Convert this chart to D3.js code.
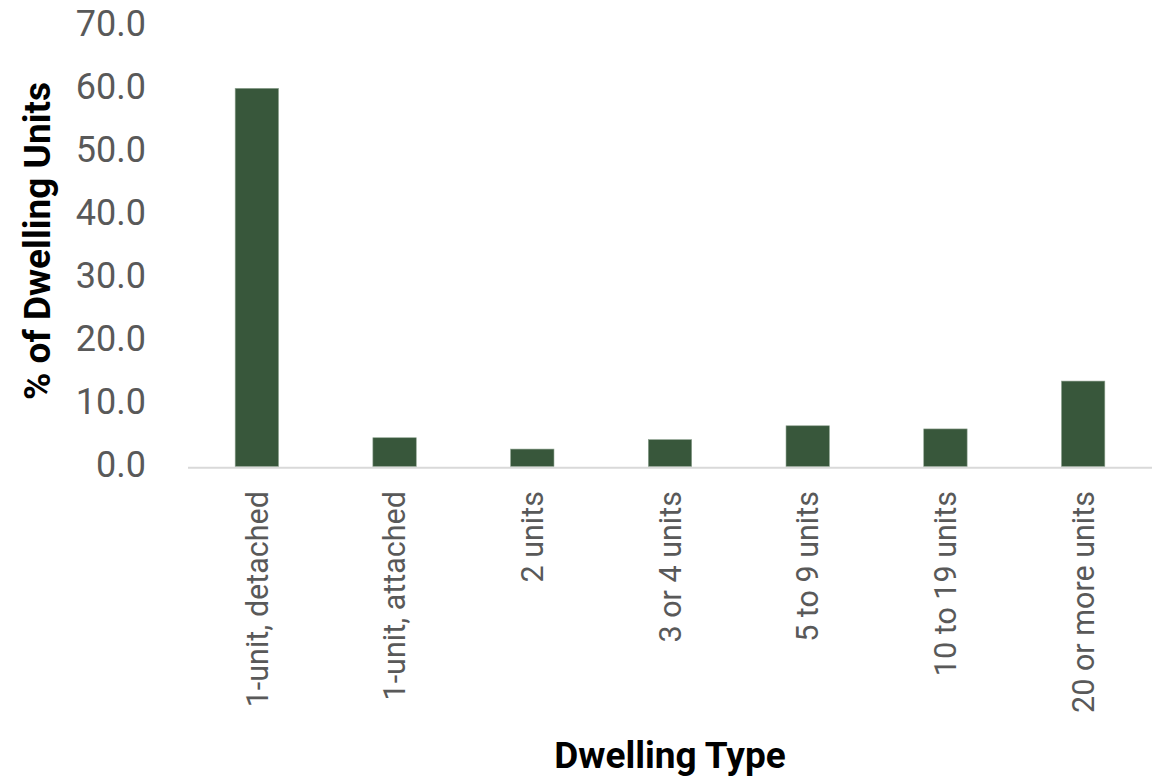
<!DOCTYPE html>
<html>
<head>
<meta charset="utf-8">
<script src="https://cdn.jsdelivr.net/npm/d3@7"></script>
<style>
  body { margin: 0; background: #fff; }
  svg { display: block; }
</style>
</head>
<body>
<div id="chart"></div>
<script>
// Share of dwelling units by type
const dwellingTypes = ["1-unit, detached", "1-unit, attached", "2 units", "3 or 4 units",
  "5 to 9 units", "10 to 19 units", "20 or more units"];
const sharePct = [60.1, 4.6, 2.8, 4.3, 6.5, 6.0, 13.6];
const yTicks = [0, 10, 20, 30, 40, 50, 60, 70];

const width = 1160;
const height = 778;
const marginLeft = 188;
const marginRight = 8;
const marginTop = 26;
const baseline = 466.7;

const data = dwellingTypes.map((d, i) => ({ type: d, value: sharePct[i] }));

const x = d3.scaleBand()
  .domain(dwellingTypes)
  .range([marginLeft, width - marginRight]);

const y = d3.scaleLinear()
  .domain([0, 70])
  .range([baseline, marginTop]);

const barWidth = x.bandwidth() * 0.315;

const svg = d3.select("#chart").append("svg")
  .attr("width", width)
  .attr("height", height)
  .attr("font-family", "Roboto, sans-serif");

// bars
svg.append("g")
  .selectAll("rect")
  .data(data)
  .join("rect")
  .attr("x", d => x(d.type) + (x.bandwidth() - barWidth) / 2)
  .attr("y", d => y(d.value))
  .attr("width", barWidth)
  .attr("height", d => y(0) - y(d.value))
  .attr("fill", "#38573b")
  .attr("stroke", "#8fa391")
  .attr("stroke-width", 0.6);

// category axis line
svg.append("line")
  .attr("x1", marginLeft)
  .attr("x2", width - marginRight)
  .attr("y1", y(0) + 1)
  .attr("y2", y(0) + 1)
  .attr("stroke", "#d9d9d9")
  .attr("stroke-width", 2);

// y tick labels
svg.append("g")
  .attr("fill", "#595959")
  .attr("font-size", 36)
  .attr("text-anchor", "end")
  .selectAll("text")
  .data(yTicks)
  .join("text")
  .attr("x", 146)
  .attr("y", d => y(d))
  .attr("dy", "0.29em")
  .text(d => d3.format(".1f")(d));

// x tick labels, rotated
svg.append("g")
  .attr("fill", "#595959")
  .attr("font-size", 30.5)
  .attr("text-anchor", "end")
  .selectAll("text")
  .data(dwellingTypes)
  .join("text")
  .attr("transform", d => `translate(${x(d) + x.bandwidth() / 2},491) rotate(-90)`)
  .attr("dy", "0.35em")
  .text(d => d);

// axis titles
svg.append("text")
  .attr("transform", "translate(50,241) rotate(-90)")
  .attr("text-anchor", "middle")
  .attr("font-size", 37)
  .attr("font-weight", "bold")
  .attr("fill", "#000")
  .text("% of Dwelling Units");

svg.append("text")
  .attr("x", 670)
  .attr("y", 768)
  .attr("text-anchor", "middle")
  .attr("font-size", 37)
  .attr("font-weight", "bold")
  .attr("fill", "#000")
  .text("Dwelling Type");
</script>
</body>
</html>
